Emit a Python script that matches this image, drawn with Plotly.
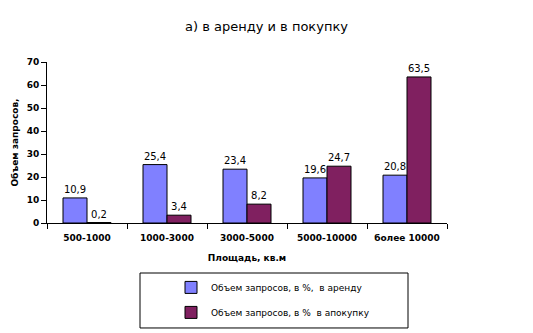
import plotly.graph_objects as go

categories = ["500-1000", "1000-3000", "3000-5000", "5000-10000", "более 10000"]
rent = [10.9, 25.4, 23.4, 19.6, 20.8]
buy = [0.2, 3.4, 8.2, 24.7, 63.5]
rent_name = "Объем запросов, в %,  в аренду"
buy_name = "Объем запросов, в %  в апокупку"

def fmt(v):
    return f"{v:.1f}".replace(".", ",")

fig = go.Figure()
fig.add_trace(go.Bar(x=categories, y=rent, name=rent_name, legendgroup="a",
                     marker=dict(color="#8080FF", line=dict(color="black", width=1)),
                     text=[fmt(v) for v in rent], textposition="outside",
                     textfont=dict(family="DejaVu Sans", size=10, color="black"),
                     cliponaxis=False))
fig.add_trace(go.Bar(x=categories, y=buy, name=buy_name, legendgroup="b",
                     marker=dict(color="#802060", line=dict(color="black", width=1)),
                     text=[fmt(v) for v in buy], textposition="outside",
                     textfont=dict(family="DejaVu Sans", size=10, color="black"),
                     cliponaxis=False))

fig.update_layout(
    width=533, height=333,
    margin=dict(l=47, r=86, t=62, b=110, autoexpand=False),
    paper_bgcolor="white", plot_bgcolor="white",
    barmode="group", bargap=0.4, bargroupgap=0,
    title=dict(text="а) в аренду и в покупку", x=0.5, xanchor="center", y=0.92, yanchor="middle",
               font=dict(family="DejaVu Sans", size=13, color="black")),
    xaxis=dict(showline=True, linecolor="black", linewidth=1, ticks="outside", ticklen=5,
               tickcolor="black", tickson="boundaries", showgrid=False, ticklabelstandoff=6,
               tickfont=dict(family="DejaVu Sans", size=9, color="black", weight="bold"),
               title=dict(text="Площадь, кв.м", standoff=12,
                          font=dict(family="DejaVu Sans", size=9, color="black", weight="bold"))),
    yaxis=dict(range=[0, 70], dtick=10, showline=True, linecolor="black", linewidth=1,
               ticks="outside", ticklen=5, tickcolor="black", showgrid=False, zeroline=False,
               tickfont=dict(family="DejaVu Sans", size=9, color="black", weight="bold"),
               title=dict(text="Объем запросов,", standoff=6,
                          font=dict(family="DejaVu Sans", size=9, color="black", weight="bold"))),
    showlegend=True,
    legend=dict(x=0.31, y=-0.31, xanchor="left", yanchor="top", traceorder="grouped",
                tracegroupgap=6, bgcolor="rgba(0,0,0,0)",
                font=dict(family="DejaVu Sans", size=9, color="black"),
                itemwidth=30),
    shapes=[dict(type="rect", xref="paper", yref="paper", x0=0.2325, x1=0.9025,
                 y0=-0.652, y1=-0.3106, line=dict(color="black", width=1))],
)

fig.write_html("out.html")
